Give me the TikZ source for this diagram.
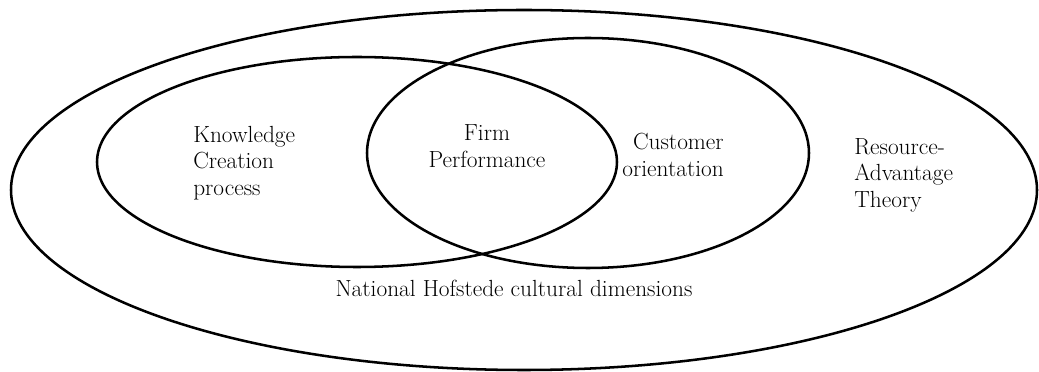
\documentclass[tikz,border=0pt]{standalone}
\usepackage{fontspec}
\usepackage{tikz}
\newcommand{\ringWidth}[0]{1.8pt}
\newcommand{\labelFont}[0]{\fontsize{16.6}{18.8}\selectfont}

\begin{document}
\begin{tikzpicture}[x=0.025cm, y=-0.025cm]
  \tikzset{ring/.style={draw, line width=\ringWidth},
           every node/.style={font=\labelFont, inner sep=0pt}}
  \useasboundingbox (0,0) rectangle (1039,372);
  % theory and the two overlapping constructs
  \draw[ring] (524,190) ellipse [x radius=513, y radius=180];
  \draw[ring] (357,162) ellipse [x radius=260, y radius=105];
  \draw[ring] (588,153) ellipse [x radius=221, y radius=115];
  % labels
  \node[anchor=west, align=left](KCP) at (193,163) {Knowledge\\Creation\\ process};
  \node[align=center](FP) at (487,146) {Firm\\Performance};
  \node[anchor=east, align=right](CO) at (724,155) {Customer\\orientation};
  \node[anchor=west, align=left](RAT) at (854,175) {Resource-\\Advantage\\Theory};
  \node(NHC) at (514,288) {National Hofstede cultural dimensions};
\end{tikzpicture}
\end{document}
